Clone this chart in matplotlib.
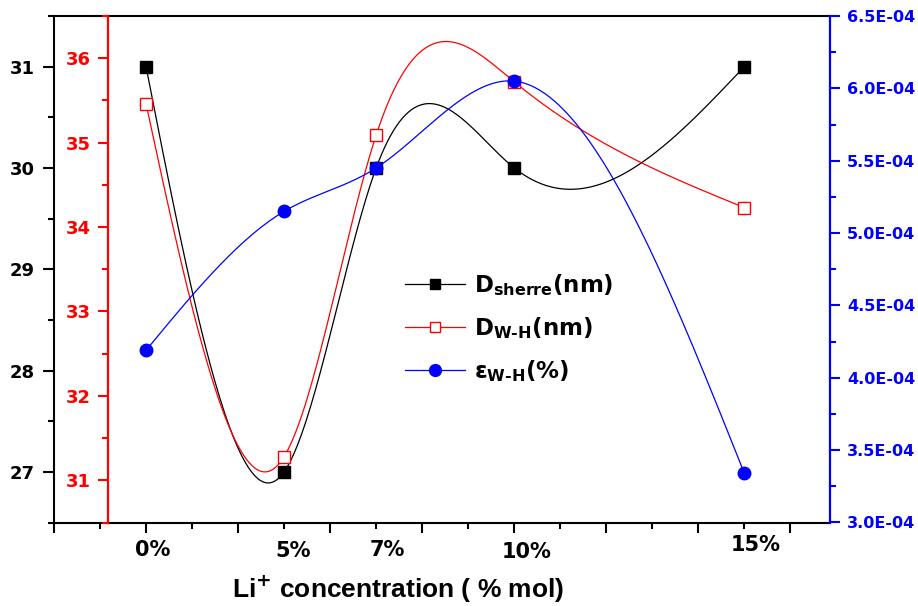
import numpy as np
import matplotlib.pyplot as plt
from matplotlib.lines import Line2D
from matplotlib.ticker import MultipleLocator, FuncFormatter, NullFormatter

# Li+ content, placed on an uneven category axis
concLabels = ["0%", "5%", "7%", "10%", "15%"]
concPos = [0, 3, 5, 8, 13]

dSherre = [31.0, 27.0, 30.0, 30.0, 31.0]                   # nm, left axis
dWH = [35.46, 31.28, 35.09, 35.72, 34.23]                  # nm, red axis
strainWH = [4.19e-4, 5.15e-4, 5.45e-4, 6.05e-4, 3.34e-4]   # blue axis

plt.rcParams['font.family'] = 'DejaVu Sans'
plt.rcParams['font.weight'] = 'bold'
plt.rcParams['mathtext.fontset'] = 'custom'
plt.rcParams['mathtext.rm'] = 'DejaVu Sans:bold'
plt.rcParams['mathtext.it'] = 'DejaVu Sans:bold'
plt.rcParams['mathtext.bf'] = 'DejaVu Sans:bold'
plt.rcParams['mathtext.sf'] = 'DejaVu Sans:bold'


def naturalSpline(x, y, n=400):
    # natural cubic spline through the points, used only for the smooth connecting line
    x = np.asarray(x, float)
    y = np.asarray(y, float)
    k = len(x)
    h = np.diff(x)
    A = np.zeros((k, k))
    b = np.zeros(k)
    A[0, 0] = A[-1, -1] = 1
    for i in range(1, k - 1):
        A[i, i - 1] = h[i - 1]
        A[i, i] = 2 * (h[i - 1] + h[i])
        A[i, i + 1] = h[i]
        b[i] = 6 * ((y[i + 1] - y[i]) / h[i] - (y[i] - y[i - 1]) / h[i - 1])
    m = np.linalg.solve(A, b)
    xs = np.linspace(x[0], x[-1], n)
    idx = np.clip(np.searchsorted(x, xs) - 1, 0, k - 2)
    x0, x1 = x[idx], x[idx + 1]
    hh = x1 - x0
    t0 = x1 - xs
    t1 = xs - x0
    ys = (m[idx] * t0 ** 3 + m[idx + 1] * t1 ** 3) / (6 * hh) \
        + (y[idx] / hh - m[idx] * hh / 6) * t0 \
        + (y[idx + 1] / hh - m[idx + 1] * hh / 6) * t1
    return xs, ys


fig = plt.figure(figsize=(9.18, 6.06), dpi=100)
ax = fig.add_axes([54 / 918, 1 - 522.5 / 606, 775.5 / 918, 506.5 / 606])
axRed = ax.twinx()
axBlue = ax.twinx()

# == black: Scherrer size ==
ax.plot(*naturalSpline(concPos, dSherre), color='black', lw=0.9)
ax.plot(concPos, dSherre, 's', color='black', ms=8, mec='black')
ax.set_xlim(-2, 14.85)
ax.set_ylim(26.5, 31.5)
ax.yaxis.set_major_locator(MultipleLocator(1))
ax.yaxis.set_minor_locator(MultipleLocator(0.5))
ax.xaxis.set_major_locator(MultipleLocator(2))
ax.xaxis.set_minor_locator(MultipleLocator(1))
ax.xaxis.set_major_formatter(NullFormatter())
ax.tick_params(axis='y', which='major', length=8, width=1.5, labelsize=13, pad=6)
ax.tick_params(axis='y', which='minor', length=4, width=1.5)
ax.tick_params(axis='x', which='major', length=7.5, width=1.5)
ax.tick_params(axis='x', which='minor', length=4, width=1.5)
for s in ['left', 'bottom', 'top']:
    ax.spines[s].set_linewidth(1.5)
ax.spines['right'].set_visible(False)

# == red: Williamson-Hall size ==
axRed.plot(*naturalSpline(concPos, dWH), color='red', lw=0.9)
axRed.plot(concPos, dWH, 's', mfc='white', mec='red', ms=8, mew=1)
axRed.set_ylim(30.5, 36.5)
axRed.spines['left'].set_position(('axes', 0.0696))
axRed.spines['left'].set_visible(True)
axRed.spines['left'].set_color('red')
axRed.spines['left'].set_linewidth(1.6)
for s in ['right', 'top', 'bottom']:
    axRed.spines[s].set_visible(False)
axRed.yaxis.set_ticks_position('left')
axRed.yaxis.set_major_locator(MultipleLocator(1))
axRed.yaxis.set_minor_locator(MultipleLocator(0.5))
axRed.tick_params(axis='y', which='major', colors='red', length=7.5, width=1.5, labelsize=13, pad=5)
axRed.tick_params(axis='y', which='minor', colors='red', length=4, width=1.5)

# == blue: strain ==
axBlue.plot(*naturalSpline(concPos, strainWH), color='blue', lw=0.9)
axBlue.plot(concPos, strainWH, 'o', color='blue', ms=9)
axBlue.set_ylim(3.0e-4, 6.5e-4)
axBlue.yaxis.set_major_locator(MultipleLocator(0.5e-4))
axBlue.yaxis.set_minor_locator(MultipleLocator(0.25e-4))
axBlue.yaxis.set_major_formatter(FuncFormatter(lambda v, p: f"{v:.1E}"))
axBlue.tick_params(axis='y', which='major', colors='blue', length=7.5, width=1.5, labelsize=11.5, pad=5)
axBlue.tick_params(axis='y', which='minor', colors='blue', length=4, width=1.5)
axBlue.spines['right'].set_color('blue')
axBlue.spines['right'].set_linewidth(1.6)
for s in ['left', 'top', 'bottom']:
    axBlue.spines[s].set_visible(False)

# category labels sit a little off the ticks
labelDx = [0.15, 0.2, 0.25, 0.27, 0.25]
labelY = [-0.055, -0.056, -0.054, -0.058, -0.045]
for pos, lab, dx, yy in zip(concPos, concLabels, labelDx, labelY):
    ax.text(pos + dx, yy, lab, transform=ax.get_xaxis_transform(),
            ha='center', va='center', fontsize=15, fontweight='bold')

fig.text(398 / 918, 1 - 589 / 606, r"Li$^{+}$ concentration ( % mol)",
         ha='center', va='center', fontsize=19, fontweight='bold',
         family='Liberation Sans')

handles = [
    Line2D([], [], color='black', lw=0.9, marker='s', ms=7.5),
    Line2D([], [], color='red', lw=0.9, marker='s', mfc='white', mec='red', ms=7.5),
    Line2D([], [], color='blue', lw=0.9, marker='o', ms=8.5),
]
labels = [r"D$_{sherre}$(nm)", r"D$_{W\text{-}H}$(nm)", r"ε$_{W\text{-}H}$(%)"]
axBlue.legend(handles, labels, loc='upper left', bbox_to_anchor=(405 / 918, 1 - 272 / 606),
              bbox_transform=fig.transFigure, frameon=False, fontsize=16.5,
              handlelength=2.6, handletextpad=0.4, labelspacing=0.75,
              borderpad=0, borderaxespad=0)

fig.savefig('out.png', dpi=100)
